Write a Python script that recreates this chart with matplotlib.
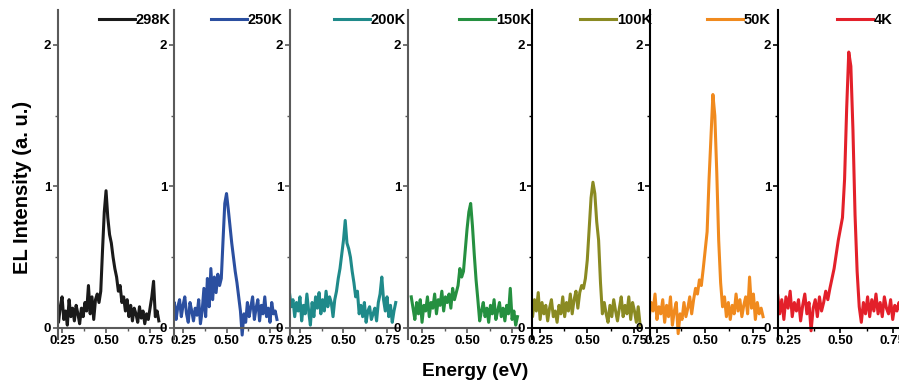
import matplotlib
matplotlib.use("Agg")
import matplotlib.pyplot as plt
from matplotlib.ticker import MultipleLocator
import numpy as np

plt.rcParams['font.family'] = ['Liberation Sans', 'DejaVu Sans']
plt.rcParams['font.weight'] = 'bold'

# energy grid (eV), 0.19 ... 0.81
energy = np.round(np.arange(0.19, 0.8101, 0.01), 2)

temps = ["298K", "250K", "200K", "150K", "100K", "50K", "4K"]
colors = ["#1a1a1a", "#2b4fa0", "#1f8a8a", "#259040", "#8a8a22", "#f08a1e", "#e3202a"]
spine_colors = ["#5a5a5a", "#5a5a5a", "#5a5a5a", "#5a5a5a", "black", "black", "black"]

# EL intensity (rows of 10: 0.19-0.28, 0.29-0.38, ...)
el_298 = [0.10, 0.12, 0.08, 0.18, 0.04, 0.15, 0.22, 0.06, 0.12, 0.02,
          0.20, 0.08, 0.14, 0.05, 0.16, 0.10, 0.03, 0.14, 0.08, 0.18,
          0.12, 0.30, 0.10, 0.22, 0.06, 0.20, 0.24, 0.18, 0.26, 0.55,
          0.82, 0.97, 0.78, 0.66, 0.60, 0.50, 0.42, 0.36, 0.26, 0.30,
          0.18, 0.22, 0.12, 0.20, 0.08, 0.16, 0.05, 0.14, 0.10, 0.04,
          0.15, 0.07, 0.12, 0.03, 0.10, 0.06, 0.14, 0.22, 0.33, 0.08,
          0.12, 0.05, 0.10]
el_250 = [0.12, 0.18, 0.06, 0.15, 0.20, 0.08, 0.16, 0.22, 0.10, 0.04,
          0.18, 0.12, 0.05, 0.14, 0.09, 0.20, 0.03, 0.12, 0.28, 0.08,
          0.35, 0.15, 0.42, 0.20, 0.36, 0.25, 0.38, 0.30, 0.35, 0.62,
          0.88, 0.95, 0.84, 0.72, 0.60, 0.50, 0.40, 0.32, 0.22, 0.12,
          -0.05, 0.10, 0.04, 0.18, 0.08, 0.15, 0.22, 0.06, 0.14, 0.20,
          0.05, 0.16, 0.10, 0.22, 0.08, 0.14, 0.04, 0.18, 0.10, 0.12,
          0.06, 0.08, 0.10]
el_200 = [0.25, 0.15, 0.20, 0.08, 0.18, 0.12, 0.22, 0.05, 0.16, 0.10,
          0.24, 0.12, 0.02, 0.18, 0.08, 0.22, 0.14, 0.25, 0.10, 0.20,
          0.12, 0.26, 0.15, 0.22, 0.18, 0.08, 0.20, 0.26, 0.35, 0.42,
          0.52, 0.62, 0.76, 0.60, 0.56, 0.50, 0.40, 0.32, 0.22, 0.26,
          0.10, 0.16, 0.08, 0.18, 0.04, 0.12, 0.15, 0.06, 0.10, 0.14,
          0.05, 0.18, 0.24, 0.36, 0.20, 0.12, 0.22, 0.08, 0.16, 0.04,
          0.12, 0.18, 0.10]
el_150 = [0.22, 0.14, 0.06, 0.18, 0.10, 0.20, 0.04, 0.16, 0.12, 0.22,
          0.08, 0.18, 0.14, 0.24, 0.10, 0.20, 0.16, 0.26, 0.12, 0.22,
          0.18, 0.24, 0.14, 0.28, 0.20, 0.25, 0.30, 0.42, 0.36, 0.40,
          0.55, 0.70, 0.82, 0.88, 0.72, 0.52, 0.34, 0.20, 0.05, 0.12,
          0.18, 0.08, 0.14, 0.04, 0.16, 0.10, 0.20, 0.06, 0.12, 0.18,
          0.08, 0.14, 0.05, 0.16, 0.10, 0.28, 0.06, 0.12, 0.02, 0.08,
          0.10, 0.08, 0.06]
el_100 = [0.10, 0.14, 0.08, 0.20, 0.12, 0.25, 0.06, 0.18, 0.10, 0.16,
          0.05, 0.14, 0.20, 0.08, 0.12, 0.04, 0.16, 0.10, 0.22, 0.08,
          0.18, 0.12, 0.24, 0.10, 0.20, 0.26, 0.14, 0.25, 0.30, 0.28,
          0.35, 0.48, 0.70, 0.92, 1.03, 0.95, 0.75, 0.62, 0.32, 0.10,
          0.18, 0.10, 0.04, 0.16, 0.08, 0.20, 0.12, 0.05, 0.14, 0.22,
          0.08, 0.16, 0.10, 0.22, 0.06, 0.18, 0.12, 0.04, 0.15, 0.02,
          0.08, 0.06, 0.06]
el_50 = [0.20, 0.26, 0.08, 0.18, 0.12, 0.24, 0.06, 0.15, 0.10, 0.20,
         0.04, 0.16, 0.08, 0.22, 0.02, 0.12, 0.18, -0.04, 0.10, 0.06,
         0.18, 0.08, 0.14, 0.22, 0.10, 0.20, 0.28, 0.24, 0.34, 0.30,
         0.42, 0.55, 0.68, 1.05, 1.35, 1.65, 1.50, 1.10, 0.62, 0.32,
         0.15, 0.22, 0.08, 0.18, 0.06, 0.16, 0.10, 0.24, 0.12, 0.20,
         0.08, 0.16, 0.22, 0.10, 0.36, 0.14, 0.24, 0.06, 0.18, 0.10,
         0.14, 0.08, 0.12]
el_4 = [0.18, 0.24, 0.10, 0.20, 0.06, 0.22, 0.14, 0.26, 0.08, 0.18,
        0.12, 0.20, 0.05, 0.16, 0.24, 0.10, 0.18, -0.02, 0.14, 0.20,
        0.08, 0.22, 0.12, 0.18, 0.26, 0.20, 0.28, 0.35, 0.42, 0.52,
        0.62, 0.70, 0.78, 1.05, 1.55, 1.95, 1.85, 1.40, 0.80, 0.40,
        0.15, 0.04, 0.18, 0.10, 0.22, 0.08, 0.20, 0.12, 0.24, 0.10,
        0.18, 0.08, 0.22, 0.14, 0.10, 0.20, 0.06, 0.16, 0.12, 0.18,
        0.10, 0.14, 0.12]
series = [el_298, el_250, el_200, el_150, el_100, el_50, el_4]
data_end = [0.80, 0.79, 0.80, 0.78, 0.78, 0.80, 0.81]

# per-panel energy window and placement (pixels in the 899x384 canvas)
x_lo = [0.227, 0.198, 0.193, 0.172, 0.207, 0.214, 0.202]
x_hi = [0.835, 0.819, 0.813, 0.794, 0.790, 0.810, 0.780]
left_px = [58, 174, 290, 408, 532, 650, 778]
right_px = [165, 282, 398, 520, 642, 765, 899]
legend_right_px = [171, 283, 406, 531, 652, 771, 893]

W, H = 899, 384
fig = plt.figure(figsize=(W / 100, H / 100), dpi=100)

y_lo, y_hi = -0.08, 2.25
bot_px, top_px = 339.3, 9.6

for i in range(7):
    ax = fig.add_axes([left_px[i] / W, 1 - bot_px / H,
                       (right_px[i] - left_px[i]) / W, (bot_px - top_px) / H])
    ax.patch.set_alpha(0)
    e = energy[energy <= data_end[i] + 1e-9]
    v = np.array(series[i])[:len(e)]
    ax.plot(e, v, color=colors[i], lw=2.2, label=temps[i])
    ax.set_xlim(x_lo[i], x_hi[i])
    ax.set_ylim(y_lo, y_hi)
    for s in ["top", "right"]:
        ax.spines[s].set_visible(False)
    ax.spines["bottom"].set_position(("data", 0))
    for s in ["left", "bottom"]:
        ax.spines[s].set_color(spine_colors[i])
        ax.spines[s].set_linewidth(1.5)
    ax.xaxis.set_minor_locator(MultipleLocator(0.125))
    ax.yaxis.set_minor_locator(MultipleLocator(0.5))
    ax.set_xticks([0.25, 0.50, 0.75])
    ax.set_xticklabels(["0.25", "0.50", "0.75"])
    ax.set_yticks([0, 1, 2])
    ax.tick_params(which="major", direction="out", length=3.5, width=1.2,
                   labelsize=9.5, pad=1.5, color=spine_colors[i])
    ax.tick_params(which="minor", direction="out", length=2, width=1.0,
                   color=spine_colors[i])
    for lab in ax.get_xticklabels() + ax.get_yticklabels():
        lab.set_fontweight("bold")
    ax.legend(loc="center right",
              bbox_to_anchor=(legend_right_px[i] / W, 1 - 20 / H),
              bbox_transform=fig.transFigure, frameon=False,
              handlelength=2.5, handletextpad=0.05, borderpad=0,
              borderaxespad=0, prop={"size": 10.5, "weight": "bold"})

fig.text(23 / W, 1 - 187 / H, "EL Intensity (a. u.)", rotation=90,
         ha="center", va="center", fontsize=14.5, fontweight="bold")
fig.text(475 / W, 1 - 371 / H, "Energy (eV)", ha="center", va="center",
         fontsize=13.8, fontweight="bold")

fig.savefig("out.png", dpi=100)
